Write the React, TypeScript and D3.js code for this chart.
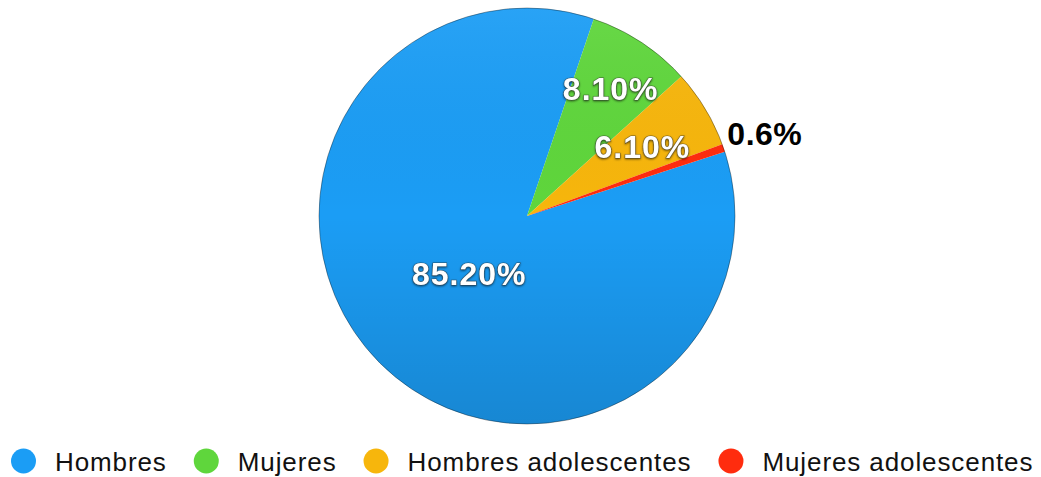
import React from "react";
import * as d3 from "d3";

const categories = ["Hombres", "Mujeres", "Hombres adolescentes", "Mujeres adolescentes"];
const values = [85.2, 8.1, 6.1, 0.6];
const valueLabels = ["85.20%", "8.10%", "6.10%", "0.6%"];
const colors = ["#1b9df5", "#5fd63c", "#f7b60c", "#ff2c0e"];

const W = 1041;
const H = 477;
const FONT = "'Liberation Sans', Arial, Helvetica, sans-serif";

function measure(text: string, size: number, spacing: number) {
  const c = document.createElement("canvas").getContext("2d");
  if (!c) return text.length * size * 0.55;
  c.font = `${size}px ${FONT}`;
  return c.measureText(text).width + spacing * text.length;
}

export default function App() {
  const cx = 527;
  const cy = 216;
  const R = 208;
  const start = (72 * Math.PI) / 180;

  const pie = d3
    .pie<number>()
    .sort(null)
    .value((d) => d)
    .startAngle(start)
    .endAngle(start + 2 * Math.PI);
  const arcs = pie(values);
  const arc = d3.arc<d3.PieArcDatum<number>>().innerRadius(0).outerRadius(R);

  const labelFrac = [0.39, 0.733, 0.648];
  const insideLabel = (i: number) => {
    const r = R * labelFrac[i];
    return d3.arc<d3.PieArcDatum<number>>().innerRadius(r).outerRadius(r).centroid(arcs[i]);
  };
  const outsideArc = d3.arc<d3.PieArcDatum<number>>().innerRadius(R + 4).outerRadius(R + 4);

  // legend layout
  const legSize = 26;
  const legSpacing = 0.9;
  const legendItems: { x: number; tx: number }[] = [];
  let x = 11;
  categories.forEach((c) => {
    legendItems.push({ x: x + 12.5, tx: x + 44 });
    x = x + 44 + measure(c, legSize, legSpacing) + 27;
  });

  return (
    <svg
      width={W}
      height={H}
      style={{ position: "absolute", left: 0, top: 0, background: "#fff" }}
      fontFamily={FONT}
    >
      <defs>
        <linearGradient id="shade" x1="0" y1="0" x2="0" y2="1">
          <stop offset="0" stopColor="#fff" stopOpacity={0.06} />
          <stop offset="0.5" stopColor="#000" stopOpacity={0} />
          <stop offset="1" stopColor="#000" stopOpacity={0.14} />
        </linearGradient>
        <filter id="ts" x="-20%" y="-40%" width="140%" height="180%">
          <feDropShadow dx="0" dy="1" stdDeviation="1" floodColor="#000" floodOpacity="0.6" />
        </filter>
      </defs>
      <g transform={`translate(${cx},${cy})`}>
        {arcs.map((a, i) => (
          <path key={i} d={arc(a) || ""} fill={colors[i]} />
        ))}
        <circle r={R} fill="url(#shade)" />
        <circle r={R} fill="none" stroke="#000" strokeOpacity={0.35} strokeWidth={1} />
        {arcs.slice(0, 3).map((a, i) => {
          const [lx, ly] = insideLabel(i);
          return (
            <text
              key={i}
              x={lx}
              y={ly}
              dy="0.36em"
              textAnchor="middle"
              fontSize={32}
              fontWeight="bold"
              letterSpacing={1}
              fill="#fff"
              stroke="#333"
              strokeOpacity={0.6}
              strokeWidth={1.2}
              paintOrder="stroke"
              filter="url(#ts)"
            >
              {valueLabels[i]}
            </text>
          );
        })}
        {(() => {
          const [ox, oy] = outsideArc.centroid(arcs[3]);
          return (
            <text x={ox} y={oy - 2} fontSize={32} fontWeight="bold" letterSpacing={0.5} fill="#000">
              {valueLabels[3]}
            </text>
          );
        })()}
      </g>
      <g>
        {categories.map((c, i) => (
          <g key={c}>
            <circle cx={legendItems[i].x} cy={461} r={12.5} fill={colors[i]} />
            <text x={legendItems[i].tx} y={471} fontSize={legSize} letterSpacing={legSpacing} fill="#111">
              {c}
            </text>
          </g>
        ))}
      </g>
    </svg>
  );
}
